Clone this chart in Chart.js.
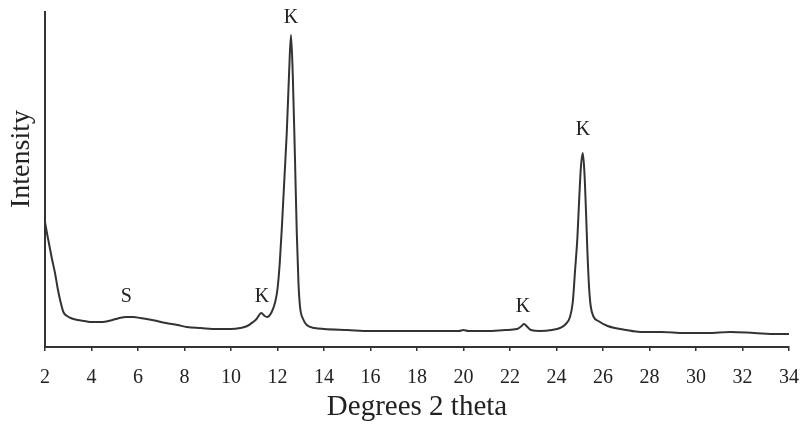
<!DOCTYPE html>
<html>
<head>
<meta charset="utf-8">
<script src="https://cdn.jsdelivr.net/npm/chart.js@4/dist/chart.umd.min.js"></script>
<style>
html,body{margin:0;padding:0;background:#fff;}
#wrap{width:800px;height:426px;position:relative;}
</style>
</head>
<body>
<div id="wrap"><canvas id="c" width="800" height="426"></canvas></div>
<script>
const twoTheta = [2.0,2.1,2.2,2.3,2.43,2.55,2.65,2.79,2.95,3.1,3.4,3.7,4.0,4.4,4.9,5.2,5.5,5.8,6.1,6.6,7.2,7.7,8.1,8.7,9.4,10.0,10.4,10.7,10.95,11.1,11.3,11.45,11.55,11.75,11.9,12.0,12.1,12.2,12.3,12.4,12.5,12.58,12.66,12.75,12.83,12.9,12.97,13.1,13.26,13.6,14.0,15.0,16.0,17.0,18.0,19.0,19.8,20.0,20.2,21.0,21.8,22.3,22.5,22.6,22.75,22.9,23.3,23.8,24.15,24.4,24.58,24.7,24.8,24.9,24.98,25.05,25.13,25.2,25.27,25.33,25.4,25.47,25.6,25.8,26.2,27.0,27.6,28.5,29.5,30.5,31.5,32.5,33.5,34.0];
const intensity = [125,112,100,88,74,58,47,35,31,29,27,26,25,25,27,29,30,30,29,27,24,22,20,19,18,18,19,21,25,28,34,31,30,35,45,58,85,125,170,215,275,312,270,190,114,65,40,28,22,19,18,17,16,16,16,16,16,17,16,16,17,18,21,23,20,17,16,17,19,23,30,45,77,110,150,180,194,175,135,95,60,41,30,26,21,17,15,15,14,14,15,14,13,13];
const xTicks = [2,4,6,8,10,12,14,16,18,20,22,24,26,28,30,32,34];
const peakLabels = ["S","K","K","K","K"];
const peakX = [5.5,11.33,12.58,22.56,25.14];
const peakY = [50,50,329,40,217];
const xTitle = "Degrees 2 theta";
const yTitle = "Intensity";

const serif = "'Liberation Serif', 'Times New Roman', serif";
const ink = '#222';

const labelPlugin = {
  id: 'peakLabels',
  afterDatasetsDraw(chart) {
    const ctx = chart.ctx, xs = chart.scales.x, ys = chart.scales.y;
    ctx.save();
    ctx.fillStyle = ink;
    ctx.font = "20px " + serif;
    ctx.textAlign = 'center';
    ctx.textBaseline = 'middle';
    peakLabels.forEach((t, i) => {
      ctx.fillText(t, xs.getPixelForValue(peakX[i]), ys.getPixelForValue(peakY[i]));
    });
    // y axis title
    ctx.font = "28px " + serif;
    ctx.translate(xs.left - 23, ys.getPixelForValue(188));
    ctx.rotate(-Math.PI / 2);
    ctx.fillText(yTitle, 0, 0);
    ctx.restore();
  }
};

new Chart(document.getElementById('c'), {
  type: 'line',
  data: {
    datasets: [{
      data: twoTheta.map((x, i) => ({x: x, y: intensity[i]})),
      borderColor: '#333',
      borderWidth: 2,
      pointRadius: 0,
      fill: false,
      cubicInterpolationMode: 'monotone'
    }]
  },
  options: {
    responsive: false,
    animation: false,
    layout: {padding: {top: 12, right: 11, bottom: 0, left: 0}},
    plugins: {legend: {display: false}, tooltip: {enabled: false}},
    scales: {
      x: {
        type: 'linear',
        min: 2, max: 34,
        afterBuildTicks(scale) { scale.ticks = xTicks.map(v => ({value: v})); },
        afterFit(scale) { scale.height = 79; scale.paddingRight = 0; scale.paddingLeft = 0; },
        ticks: {
          color: ink,
          font: {family: serif, size: 20},
          padding: 15,
          maxRotation: 0,
          autoSkip: false
        },
        grid: {display: true, drawOnChartArea: false, drawTicks: true, tickLength: 4, color: '#333', lineWidth: 1.5},
        border: {display: true, color: '#333', width: 2},
        title: {display: true, text: xTitle, color: ink, font: {family: serif, size: 29}, padding: {top: 0, bottom: 1}}
      },
      y: {
        min: 0, max: 335,
        afterFit(scale) { scale.width = 45; },
        ticks: {display: false},
        grid: {display: false},
        border: {display: true, color: '#333', width: 2}
      }
    }
  },
  plugins: [labelPlugin]
});
</script>
</body>
</html>
